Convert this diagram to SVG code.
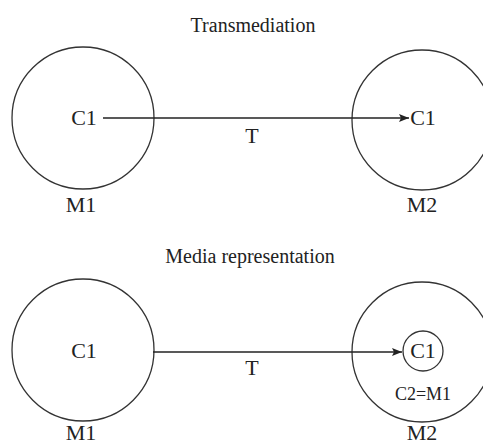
<svg xmlns="http://www.w3.org/2000/svg" width="483" height="445" viewBox="0 0 483 445">
<style>
text{font-family:"Liberation Serif","Times New Roman",serif;fill:#222;text-anchor:middle}
.t{font-size:22px}
.h{font-size:20px}
.s{font-size:18px}
circle{fill:none;stroke:#333;stroke-width:1.3}
.c line{stroke:#222;stroke-width:1.6}
</style>
<defs>
<marker id="ah" viewBox="0 0 10 8" refX="10" refY="4" markerWidth="10" markerHeight="8" markerUnits="userSpaceOnUse" orient="auto">
<path d="M0,0 L10,4 L0,8 L2,4 Z" fill="#222"/>
</marker>
</defs>
<rect width="483" height="445" fill="#fff"/>
<text class="h" x="253" y="32">Transmediation</text>
<g id="top-M1"><circle cx="83" cy="118" r="71"/><text class="t" x="84" y="125">C1</text><text class="t" x="81" y="212">M1</text></g>
<g id="top-M2"><circle cx="422" cy="120" r="70"/><text class="t" x="423" y="125">C1</text><text class="t" x="422" y="212">M2</text></g>
<text class="h" x="250" y="263">Media representation</text>
<g id="bot-M1"><circle cx="83" cy="350" r="71"/><text class="t" x="84" y="358">C1</text><text class="t" x="81" y="440">M1</text></g>
<g id="bot-M2"><circle cx="422" cy="352" r="70"/><circle cx="423" cy="351" r="20"/><text class="t" x="423" y="358">C1</text><text class="s" x="423" y="400">C2=M1</text><text class="t" x="422" y="440">M2</text></g>
<g class="c">
<line x1="103" y1="118" x2="409" y2="118" marker-end="url(#ah)"/>
<text class="t" x="252" y="143">T</text>
<line x1="153" y1="352" x2="402" y2="352" marker-end="url(#ah)" style="stroke-width:1.3"/>
<text class="t" x="252" y="375">T</text>
</g>
</svg>
